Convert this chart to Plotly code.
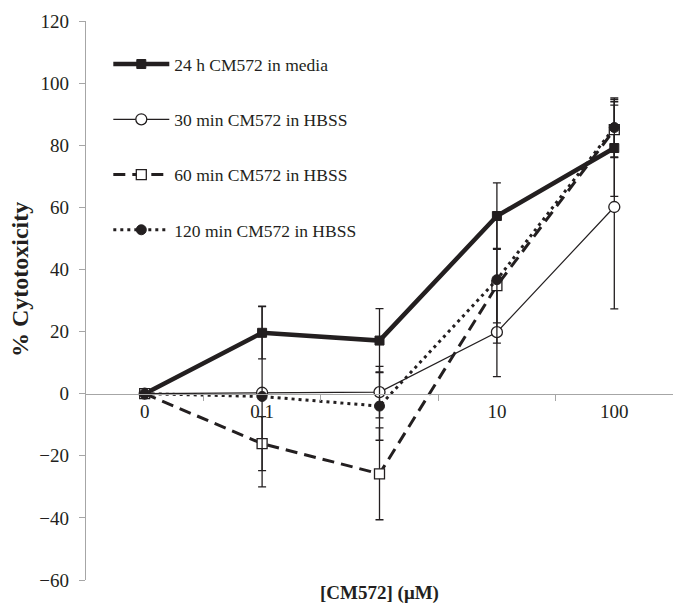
import plotly.graph_objects as go

categories = ["0", "0.1", "1", "10", "100"]
tick_labels = ["0", "0.1", "", "10", "100"]

series_names = ["24 h CM572 in media", "30 min CM572 in HBSS",
                "60 min CM572 in HBSS", "120 min CM572 in HBSS"]

v_24h = [0, 19.6, 17.1, 57.2, 79.1]
e_24h = [0, 8.4, 10.3, 10.7, 15.6]

v_30 = [0, 0.3, 0.5, 19.8, 60.1]
e_30 = [0, 1.0, 8.3, 14.3, 32.8]

v_60 = [0, -16.1, -25.8, 34.8, 85.0]
e_60 = [0, 8.7, 14.8, 12.0, 9.0]

v_120 = [0, -0.9, -4.0, 36.7, 85.7]
e_120 = [0, 29.1, 11.0, 20.4, 9.5]

INK = "#231f20"
AXIS = "#a6a6a6"
FONT = "Liberation Serif"

x_idx = list(range(len(categories)))

def eb(vals):
    return dict(type="data", array=vals, visible=True, color=INK, thickness=1.3, width=4)

fig = go.Figure()
fig.add_trace(go.Scatter(
    x=x_idx, y=v_24h, name=series_names[0], legendgroup="a", mode="lines+markers",
    line=dict(color=INK, width=4.5),
    marker=dict(symbol="square", size=9, color=INK, line=dict(color=INK, width=1)),
    error_y=eb(e_24h)))
fig.add_trace(go.Scatter(
    x=x_idx, y=v_30, name=series_names[1], legendgroup="b", mode="lines+markers",
    line=dict(color=INK, width=1.2),
    marker=dict(symbol="circle", size=11, color="white", line=dict(color=INK, width=1.3)),
    error_y=eb(e_30)))
fig.add_trace(go.Scatter(
    x=x_idx, y=v_60, name=series_names[2], legendgroup="c", mode="lines+markers",
    line=dict(color=INK, width=3, dash="12px,7px"),
    marker=dict(symbol="square", size=10, color="white", line=dict(color=INK, width=1.3)),
    error_y=eb(e_60)))
fig.add_trace(go.Scatter(
    x=x_idx, y=v_120, name=series_names[3], legendgroup="d", mode="lines+markers",
    line=dict(color=INK, width=3, dash="3px,4px"),
    marker=dict(symbol="circle", size=10, color=INK, line=dict(color=INK, width=1)),
    error_y=eb(e_120)))

fig.update_layout(
    width=673, height=604,
    margin=dict(l=86, r=0, t=21, b=24),
    paper_bgcolor="white", plot_bgcolor="white",
    font=dict(family=FONT, size=19, color=INK),
    showlegend=True,
    legend=dict(
        x=0.038, y=0.955, xanchor="left", yanchor="top",
        font=dict(family=FONT, size=17.5, color=INK),
        tracegroupgap=29.5, itemwidth=56, bgcolor="rgba(0,0,0,0)",
        traceorder="grouped"),
    xaxis=dict(
        range=[-0.5, 4.5], tickmode="array", tickvals=x_idx, ticktext=tick_labels,
        ticks="", showgrid=False, zeroline=False,
        showline=True, linecolor=AXIS, linewidth=1.3,
        anchor="free", position=1/3,
        tickfont=dict(family=FONT, size=19, color=INK),
        minor=dict(tickmode="array", tickvals=[0.5, 1.5, 2.5, 3.5],
                   ticks="outside", ticklen=6, tickcolor=AXIS, tickwidth=1.3, showgrid=False)),
    yaxis=dict(
        range=[-60, 120], tickmode="linear", tick0=-60, dtick=20,
        ticks="outside", ticklen=6, tickcolor=AXIS, tickwidth=1.3,
        showgrid=False, zeroline=False,
        showline=True, linecolor=AXIS, linewidth=1.3,
        ticklabelstandoff=6,
        tickfont=dict(family=FONT, size=19, color=INK)),
    annotations=[
        dict(text="<b>[CM572] (μM)</b>", xref="paper", yref="paper",
             x=0.5, y=-0.023, xanchor="center", yanchor="middle", showarrow=False,
             font=dict(family=FONT, size=19, color=INK)),
        dict(text="<b>% Cytotoxicity</b>", xref="paper", yref="paper",
             x=-0.112, y=0.537, xanchor="center", yanchor="middle", showarrow=False,
             textangle=-90, font=dict(family=FONT, size=24, color=INK)),
    ],
)

fig.write_html("out.html")
